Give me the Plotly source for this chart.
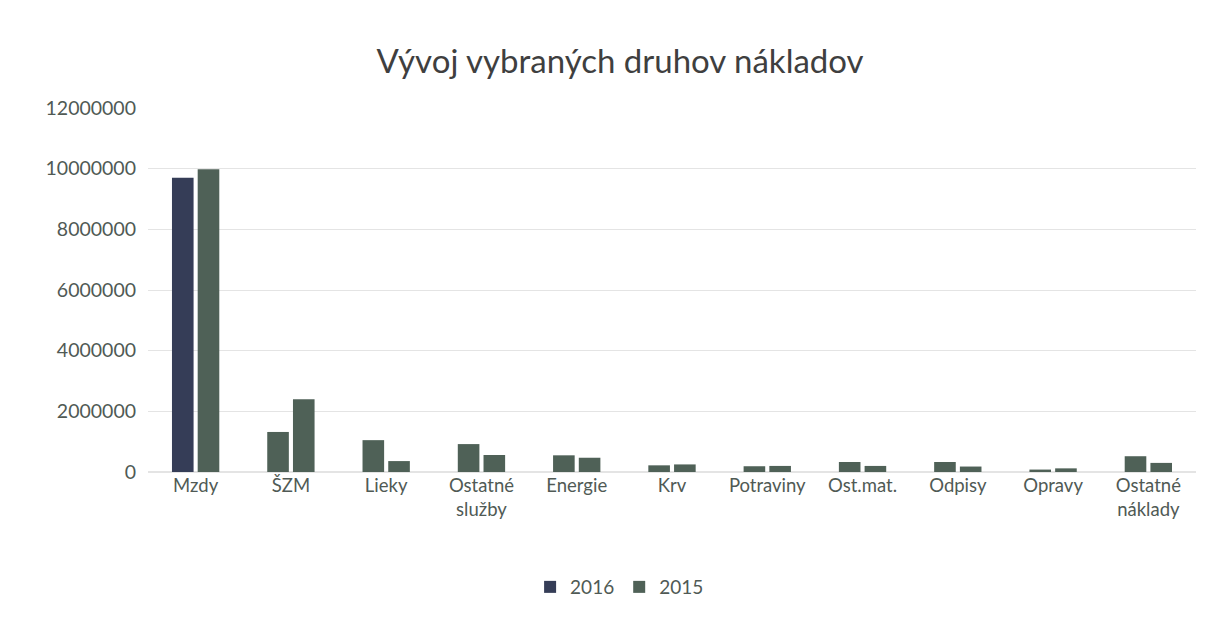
import plotly.graph_objects as go

categories = ["Mzdy", "ŠZM", "Lieky", "Ostatné<br>služby", "Energie", "Krv",
              "Potraviny", "Ost.mat.", "Odpisy", "Opravy", "Ostatné<br>náklady"]
values_2016 = [9700000, 1320000, 1050000, 920000, 550000, 220000, 190000, 330000, 330000, 80000, 520000]
values_2015 = [9980000, 2400000, 360000, 560000, 470000, 250000, 200000, 200000, 180000, 120000, 300000]
tick_vals = [0, 2000000, 4000000, 6000000, 8000000, 10000000, 12000000]

navy = "#353d57"
green = "#4f6157"
colors_2016 = [navy] + [green] * (len(categories) - 1)

fig = go.Figure()
fig.add_trace(go.Bar(name="2016", x=categories, y=values_2016, marker_color=colors_2016,
                     marker_line_width=0))
fig.add_trace(go.Bar(name="2015", x=categories, y=values_2015, marker_color=green,
                     marker_line_width=0))

font_family = "Lato, Open Sans, sans-serif"
fig.update_layout(
    width=1212, height=619,
    paper_bgcolor="white", plot_bgcolor="white",
    barmode="group", bargap=0.46, bargroupgap=0.16,
    title=dict(text="Vývoj vybraných druhov nákladov", x=0.505, xanchor="center",
               y=0.913, yanchor="middle",
               font=dict(family=font_family, size=33, color="#3f3f3f")),
    margin=dict(l=140, r=24, t=100, b=155),
    font=dict(family=font_family, size=18, color="#505a55"),
    legend=dict(orientation="h", x=0.45, xanchor="center", y=-0.316, yanchor="middle",
                font=dict(size=19, color="#505a55"), traceorder="normal",
                itemwidth=30),
    xaxis=dict(showgrid=False, showline=False, ticks="", tickfont=dict(size=18.5),
               categoryorder="array", categoryarray=categories),
    yaxis=dict(range=[0, 12000000], tickvals=tick_vals, ticktext=[str(v) for v in tick_vals],
               showgrid=True, gridcolor="#e4e4e4", gridwidth=1, zeroline=True,
               zerolinecolor="#e4e4e4", ticks="", ticklabelstandoff=11,
               tickfont=dict(size=19.5)),
)

fig.write_html("out.html")
